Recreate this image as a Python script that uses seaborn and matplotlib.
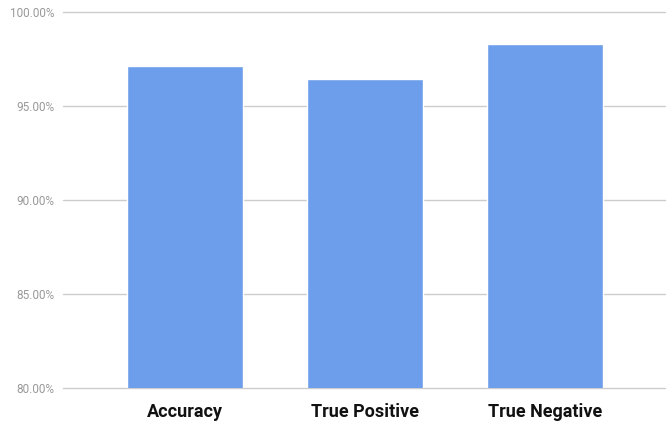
import matplotlib
matplotlib.use("Agg")
import matplotlib.pyplot as plt
import seaborn as sns
import pandas as pd
from matplotlib.ticker import FuncFormatter

categories = ["Accuracy", "True Positive", "True Negative"]
values = [97.15, 96.42, 98.30]
y_ticks = [80, 85, 90, 95, 100]

sns.set_theme(style="white")
plt.rcParams["font.family"] = ["Roboto", "DejaVu Sans"]

df = pd.DataFrame({"metric": categories, "pct": values})

fig = plt.figure(figsize=(6.69, 4.23), dpi=100)
ax = fig.add_axes([0.0942, 0.0834, 0.9, 0.8882])

sns.barplot(data=df, x="metric", y="pct", color="#6d9eeb", saturation=1,
            width=0.644, ax=ax, zorder=3)

ax.set_ylim(80, 100)
ax.set_xlim(-0.678, 2.667)
ax.set_yticks(y_ticks)
ax.yaxis.set_major_formatter(FuncFormatter(lambda v, p: f"{v:.2f}%"))
ax.grid(axis="y", color="#cccccc", linewidth=1, zorder=0)
for gl in ax.get_ygridlines():
    gl.set_clip_on(False)
ax.set_axisbelow(True)
for s in ax.spines.values():
    s.set_visible(False)
ax.set_xlabel("")
ax.set_ylabel("")
ax.tick_params(axis="y", length=0, pad=6, labelsize=8.5, labelcolor="#999999")
ax.tick_params(axis="x", length=0, pad=11)
for lbl in ax.get_xticklabels():
    lbl.set_fontsize(13)
    lbl.set_fontweight("bold")
    lbl.set_color("#111111")

fig.savefig("out.png", dpi=100)
